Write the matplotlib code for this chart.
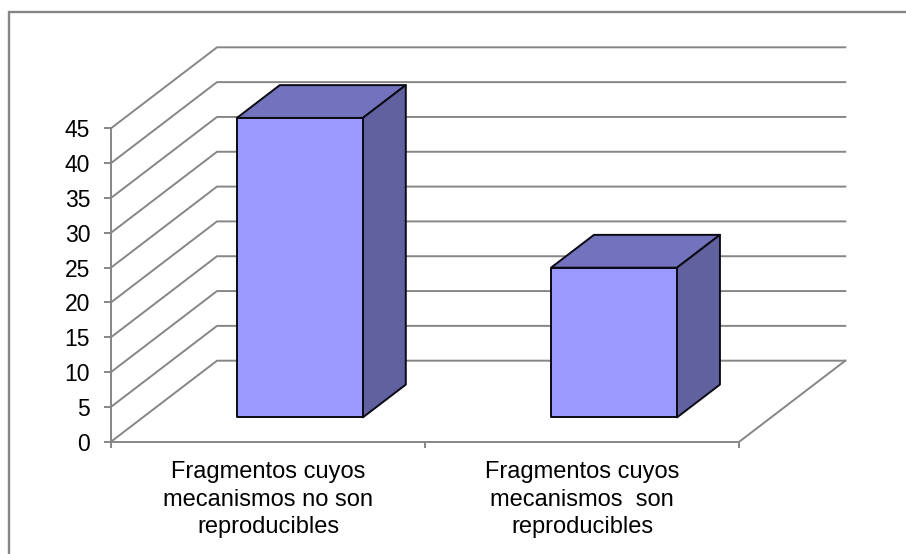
import matplotlib
matplotlib.use("Agg")
import matplotlib.pyplot as plt
from matplotlib.lines import Line2D

plt.rcParams['font.family'] = ['Liberation Sans', 'DejaVu Sans']

categories = ["Fragmentos cuyos\nmecanismos no son\nreproducibles",
              "Fragmentos cuyos\nmecanismos  son\nreproducibles"]
values = [43, 21.5]
y_ticks = list(range(0, 50, 5))

W, H = 906, 554
GRID = "#868686"
FRONT, TOP, SIDE = "#9999FF", "#7373BD", "#61619F"
LW = 1.4

fig = plt.figure(figsize=(W / 100, H / 100), dpi=100, facecolor="white")

# Chart frame: only its top and left edges fall inside the canvas
fig.add_artist(Line2D([9 / W, 9 / W, 1], [0, 1 - 12 / H, 1 - 12 / H], transform=fig.transFigure,
                      color=GRID, linewidth=LW + 0.3, solid_joinstyle="miter"))

# Front plane of the plot box
ax = fig.add_axes([111 / W, 1 - 441.7 / H, 628.3 / W, 313.4 / H])
ax.set_xlim(0, 2)
ax.set_ylim(0, 45)
ax.patch.set_visible(False)

# Oblique depth of the box, in data units
DX = 106 / 314.15
DY = 81 / (313.4 / 45)


def project(x, y, d):
    return x + d * DX, y + d * DY


def face(points, color):
    xs, ys = zip(*[project(*p) for p in points])
    ax.fill(xs, ys, facecolor=color, edgecolor="#0a0a14", linewidth=1.4,
            joinstyle="round", clip_on=False, zorder=5)


# Wall gridlines running back from the value axis
for v in y_ticks:
    xs, ys = zip(project(0, v, 0), project(0, v, 1), project(2, v, 1))
    ax.plot(xs, ys, color=GRID, lw=LW, clip_on=False, zorder=1)
xs, ys = zip(project(2, 0, 0), project(2, 0, 1))
ax.plot(xs, ys, color=GRID, lw=LW, clip_on=False, zorder=1)

# Bars as three visible faces of a box
d0, d1 = 0.30, 0.705
half = 0.2005
for i, v in enumerate(values):
    c = i + 0.5
    l, r = c - half, c + half
    face([(l, v, d0), (r, v, d0), (r, v, d1), (l, v, d1)], TOP)
    face([(r, 0, d0), (r, 0, d1), (r, v, d1), (r, v, d0)], SIDE)
    face([(l, 0, d0), (r, 0, d0), (r, v, d0), (l, v, d0)], FRONT)

for s in ("top", "right"):
    ax.spines[s].set_visible(False)
for s in ("left", "bottom"):
    ax.spines[s].set_color(GRID)
    ax.spines[s].set_linewidth(LW)

ax.set_yticks(y_ticks)
ax.set_xticks([0, 1, 2])
ax.set_xticklabels([])
ax.set_xticks([0.5, 1.5], labels=categories, minor=True)
ax.tick_params(axis="y", length=5, width=LW, color=GRID, labelsize=16.5, pad=10, labelcolor="black")
ax.tick_params(axis="x", which="major", length=4.5, width=LW, color=GRID)
ax.tick_params(axis="x", which="minor", length=0, labelsize=17, pad=14.2, labelcolor="black")
for t in ax.get_xticklabels(minor=True):
    t.set_linespacing(1.31)

fig.savefig("out.png", dpi=100)
